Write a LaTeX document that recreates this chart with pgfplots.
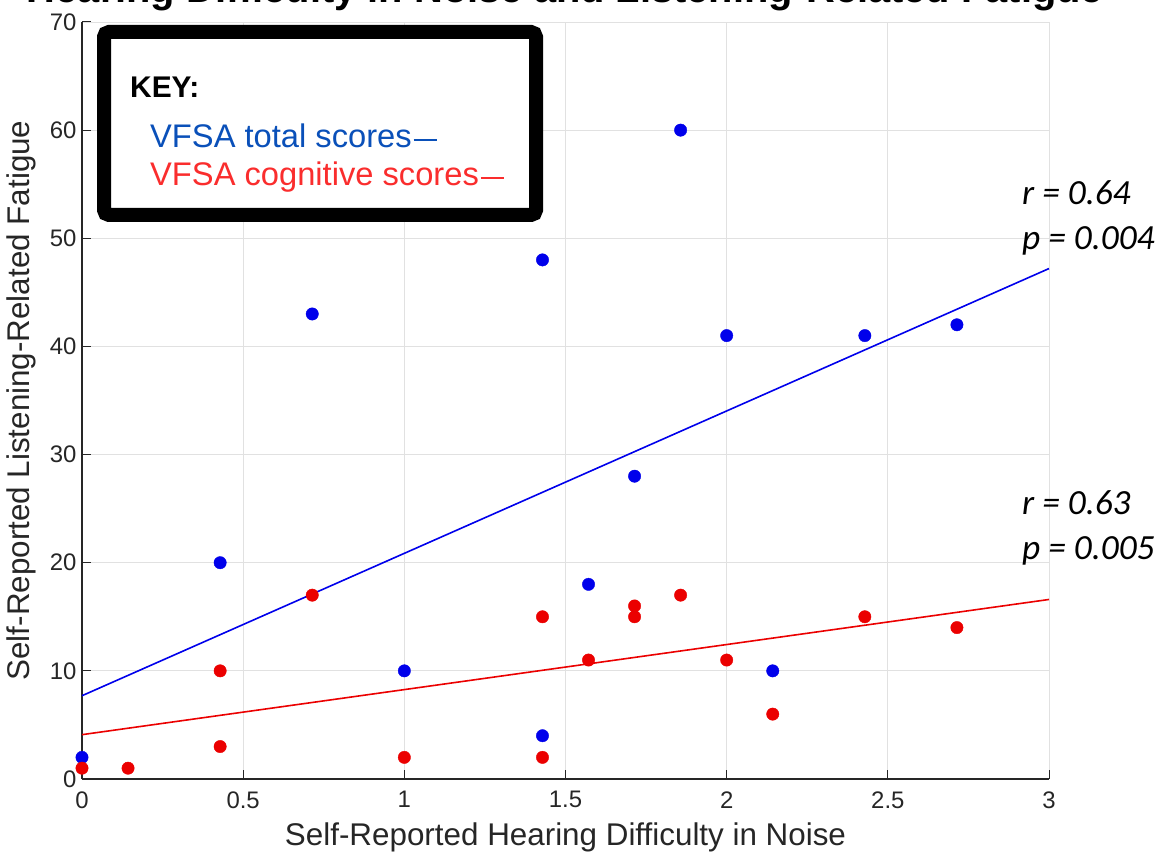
\documentclass[border=0pt]{standalone}
\usepackage{pgfplots}
\pgfplotsset{compat=1.18}
\usepackage{fontspec}
\setmainfont{Liberation Sans}
\newfontfamily\calibri{Carlito}

\definecolor{ptblue}{RGB}{0,0,235}
\definecolor{ptred}{RGB}{235,0,0}
\definecolor{keyblue}{RGB}{10,80,185}
\definecolor{keyred}{RGB}{250,45,45}
\definecolor{axgray}{RGB}{38,38,38}
\definecolor{gridgray}{RGB}{225,225,225}

% VFSA total scores vs. hearing difficulty in noise
\pgfplotstableread{
x y
0 2
0.4286 20
0.7143 43
1 10
1.4286 48
1.4286 4
1.5714 18
1.7143 28
1.8571 60
2 41
2.1429 10
2.4286 41
2.7143 42
}\totaldata

% VFSA cognitive scores vs. hearing difficulty in noise
\pgfplotstableread{
x y
0 1
0.1429 1
0.4286 10
0.4286 3
0.7143 17
1 2
1.4286 15
1.4286 2
1.5714 11
1.7143 16
1.7143 15
1.8571 17
2 11
2.1429 6
2.4286 15
2.7143 14
}\cogdata

\begin{document}
\begin{tikzpicture}[x=1bp,y=1bp]
\begin{axis}[
  at={(82bp,78bp)}, anchor=south west,
  scale only axis, width=967bp, height=757bp,
  xmin=0, xmax=3, ymin=0, ymax=70,
  xtick={0,0.5,1,1.5,2,2.5,3},
  ytick={0,10,20,30,40,50,60,70},
  axis lines*=left,
  axis line style={axgray, line width=1.3bp},
  tick style={axgray, line width=1bp},
  tick align=inside,
  major tick length=9bp,
  grid=major,
  grid style={gridgray, line width=0.8bp},
  /pgf/number format/assume math mode=true,
  ticklabel style={font=\fontsize{24}{28}\selectfont, text=axgray},
  xticklabel style={yshift=-9bp},
  yticklabel style={xshift=-2bp},
  xlabel={Self-Reported Hearing Difficulty in Noise},
  ylabel={Self-Reported Listening-Related Fatigue},
  label style={font=\fontsize{31.5}{36}\selectfont, text=axgray},
  xlabel style={at={(axis description cs:0.5,-0.0885)}, anchor=base},
  ylabel style={at={(axis description cs:-0.0538,0.5)}, anchor=base},
  clip=false,
]
\addplot[ptblue, only marks, mark=*, mark size=6.2bp, mark options={draw=ptblue, fill=ptblue}] table {\totaldata};
\addplot[ptred, only marks, mark=*, mark size=6.2bp, mark options={draw=ptred, fill=ptred}] table {\cogdata};
% least-squares fit lines
\addplot[ptblue, line width=1.6bp, no marks] coordinates {(0,7.7) (3,47.2)};
\addplot[ptred, line width=1.6bp, no marks] coordinates {(0,4.1) (3,16.6)};
\end{axis}

% key box
\draw[line width=14bp, rounded corners=5bp, fill=white] (104,825) rectangle (536,642);
\node[anchor=base west, inner sep=0, font=\fontsize{30}{34}\selectfont\bfseries] at (130,759) {KEY:};
\node[anchor=base west, font=\fontsize{32.8}{36}\selectfont, text=keyblue, inner sep=0] at (150,709) {VFSA total scores\kern2bp\rule[0.22em]{0.7em}{2bp}};
\node[anchor=base west, font=\fontsize{32.8}{36}\selectfont, text=keyred, inner sep=0] at (150,671) {VFSA cognitive scores\kern2bp\rule[0.22em]{0.7em}{2bp}};

% correlation statistics
\node[anchor=base west, inner sep=0, font=\calibri\itshape\fontsize{35.5}{40}\selectfont] at (1022,652) {r = 0.64};
\node[anchor=base west, inner sep=0, font=\calibri\itshape\fontsize{35.5}{40}\selectfont] at (1022,607) {p = 0.004};
\node[anchor=base west, inner sep=0, font=\calibri\itshape\fontsize{35.5}{40}\selectfont] at (1022,342) {r = 0.63};
\node[anchor=base west, inner sep=0, font=\calibri\itshape\fontsize{35.5}{40}\selectfont] at (1022,297) {p = 0.005};

% title
\node[anchor=base, inner sep=0, font=\fontsize{40}{48}\selectfont\bfseries] at (565,854) {Hearing Difficulty in Noise and Listening-Related Fatigue};

\pgfresetboundingbox
\useasboundingbox (0,0) rectangle (1167,857);
\end{tikzpicture}
\end{document}
